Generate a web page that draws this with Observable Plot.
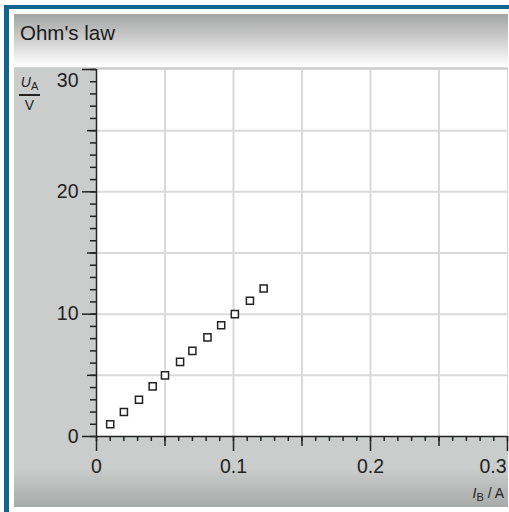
<!DOCTYPE html>
<html><head><meta charset="utf-8">
<script src="https://cdn.jsdelivr.net/npm/d3@7"></script>
<script src="https://cdn.jsdelivr.net/npm/@observablehq/plot@0.6"></script>
<style>
html,body{margin:0;padding:0;background:#fff;}
body{width:509px;height:512px;overflow:hidden;position:relative;font-family:"Liberation Sans",Arial,sans-serif;color:#222;}
#frame{position:absolute;left:4px;top:5px;width:510px;height:520px;border-left:5px solid #10668f;border-top:4px solid #10668f;padding:5px 0 0 5px;box-sizing:content-box;}
#title{width:494px;height:54px;padding:7px 0 0 6px;box-sizing:border-box;font-size:20.5px;line-height:23px;color:#1a1a1a;
  background:linear-gradient(to bottom,#a3a5a4 0%,#cfd0cf 50%,#f5f5f5 88%,#ffffff 100%);border-bottom:1px solid #d8d8d8;}
#chart{width:494px;height:439px;background:linear-gradient(to bottom,#cbcdcc 0px,#cbcdcc 400px,#a8aaa9 439px);}
#chart svg{display:block;}
.lab{position:absolute;font-size:14px;line-height:15px;color:#222;}
#ylab{left:18px;top:75px;width:23px;text-align:center;}
#ylabline{position:absolute;left:19px;top:94px;width:21px;height:2px;background:#222;}
#yunit{left:19px;top:98px;width:21px;text-align:center;}
#xlab{right:5px;top:486px;}
sub{font-size:11px;vertical-align:-3px;line-height:0;}
</style></head>
<body>
<div id="frame">
  <div id="title">Ohm's law</div>
  <div id="chart"></div>
</div>
<div class="lab" id="ylab"><i>U</i><sub>A</sub></div>
<div id="ylabline"></div>
<div class="lab" id="yunit">V</div>
<div class="lab" id="xlab"><i>I</i><sub>B</sub> / A</div>
<script>
// data
const current = [0.010, 0.020, 0.031, 0.041, 0.050, 0.061, 0.070, 0.081, 0.091, 0.101, 0.112, 0.122];
const voltage = [1.0, 2.0, 3.0, 4.1, 5.0, 6.1, 7.0, 8.1, 9.1, 10.0, 11.1, 12.1];
const xTickLabels = [0, 0.1, 0.2];
const xLastTick = [0.3];
const yTickLabels = [0, 10, 20];
const yTopTick = [30];
const xMajor = [0, 0.1, 0.2, 0.3];
const xMid = [0.05, 0.15, 0.25];
const yMajor = [0, 10, 20, 30];
const yMid = [5, 15, 25];
const xGrid = [0.05, 0.1, 0.15, 0.2, 0.25];
const yGrid = [5, 10, 15, 20, 25];
const xMinor = d3.range(0, 31).map(i => i / 100);
const yMinor = d3.range(0, 31);

const data = current.map((c, i) => ({I: c, U: voltage[i]}));
const blank = () => "";
const fmt = d => String(d);
const ink = "#222";
const fs = 19.5;

const chart = Plot.plot({
  width: 494, height: 439,
  marginLeft: 82, marginRight: 1, marginTop: 1, marginBottom: 71,
  style: {background: "transparent", fontFamily: "'Liberation Sans', Arial, sans-serif", fontSize: fs + "px", color: ink, overflow: "visible"},
  x: {domain: [0, 0.3], label: null},
  y: {domain: [0, 30], label: null},
  marks: [
    Plot.frame({fill: "white", stroke: "#d8d8d8"}),
    Plot.gridX(xGrid, {stroke: "#dadada", strokeOpacity: 1, strokeWidth: 2}),
    Plot.gridY(yGrid, {stroke: "#dadada", strokeOpacity: 1, strokeWidth: 2}),
    Plot.axisX(xMinor, {tickSize: 5, tickFormat: blank, stroke: ink, strokeWidth: 1.5, label: null}),
    Plot.axisX(xMid, {tickSize: 10, tickFormat: blank, stroke: ink, strokeWidth: 1.5, label: null}),
    Plot.axisX(xMajor, {tickSize: 15, tickFormat: blank, stroke: ink, strokeWidth: 1.5, label: null}),
    Plot.axisY(yMinor, {tickSize: 6, tickFormat: blank, stroke: ink, strokeWidth: 1.5, label: null}),
    Plot.axisY(yMid, {tickSize: 9, tickFormat: blank, stroke: ink, strokeWidth: 1.5, label: null}),
    Plot.axisY(yMajor, {tickSize: 14, tickFormat: blank, stroke: ink, strokeWidth: 1.5, label: null}),
    Plot.axisX(xTickLabels, {tickSize: 0, tickPadding: 23, tickFormat: fmt, fontSize: fs, fill: ink, label: null}),
    Plot.axisX(xLastTick, {tickSize: 0, tickPadding: 23, tickFormat: fmt, fontSize: fs, fill: ink, textAnchor: "end", dx: -1, label: null}),
    Plot.axisY(yTickLabels, {tickSize: 0, tickPadding: 18, tickFormat: fmt, fontSize: fs, fill: ink, label: null}),
    Plot.axisY(yTopTick, {tickSize: 0, tickPadding: 18, tickFormat: fmt, fontSize: fs, fill: ink, dy: 11, label: null}),
    Plot.ruleX([0], {stroke: ink, strokeWidth: 1.5}),
    Plot.ruleY([0], {stroke: ink, strokeWidth: 1.5}),
    Plot.dot(data, {x: "I", y: "U", symbol: "square", r: 4, stroke: ink, strokeWidth: 1.5, fill: "white"})
  ]
});
document.getElementById("chart").appendChild(chart);
</script>
</body></html>
